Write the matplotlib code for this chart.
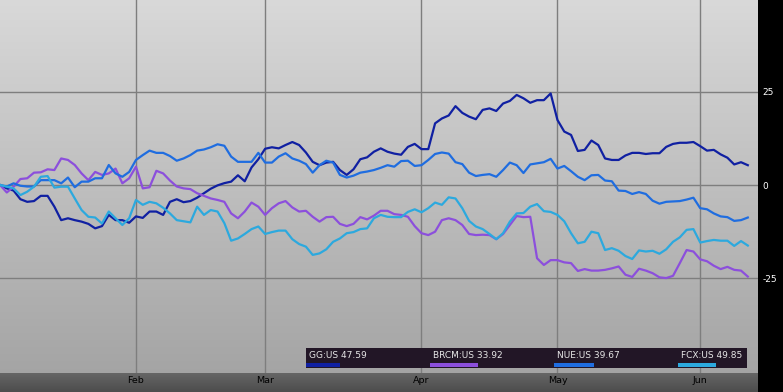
import numpy as np
import matplotlib
matplotlib.use("Agg")
import matplotlib.pyplot as plt
from matplotlib.patches import Rectangle

# % change since start, one value per trading day (Jan 3 2011 .. Jun 10 2011)
gg = [0, -0.9, -1.5, -3.8, -4.5, -4.3, -2.9, -2.9, -5.8, -9.4,
      -8.9, -9.4, -9.8, -10.4, -11.6, -11.0, -8.0, -9.4, -9.4, -10.1,
      -8.4, -8.8, -7.1, -7.1, -8.0, -4.5, -3.8, -4.6, -4.3, -3.4,
      -2.2, -1.0, -0.1, 0.5, 0.9, 2.6, 1.0, 4.7, 6.9, 9.7,
      10.1, 9.8, 10.7, 11.5, 10.7, 8.7, 6.2, 5.3, 6.0, 6.2,
      4.0, 2.7, 4.2, 6.9, 7.4, 8.9, 9.8, 8.9, 8.4, 8.1,
      10.2, 11.0, 9.6, 9.6, 16.5, 17.8, 18.6, 21.1, 19.3, 18.3,
      17.6, 20.1, 20.5, 19.8, 21.8, 22.5, 24.1, 23.2, 22.0, 22.7,
      22.7, 24.5, 17.4, 14.3, 13.4, 9.1, 9.4, 11.9, 10.7, 7.1,
      6.7, 6.7, 7.9, 8.6, 8.6, 8.3, 8.5, 8.5, 10.2, 11.0,
      11.3, 11.3, 11.5, 10.4, 9.2, 9.4, 8.2, 7.3, 5.5, 6.1, 5.3]

brcm = [0, -2.0, -0.45, 1.6, 1.8, 3.3, 3.4, 4.2, 4.0, 7.1,
        6.7, 5.35, 3.1, 1.3, 3.5, 2.7, 3.1, 4.4, 0.45, 1.8,
        4.9, -0.9, -0.6, 3.8, 3.1, 1.2, -0.4, -0.9, -1.1, -2.2,
        -2.9, -3.6, -4.0, -4.5, -7.6, -8.9, -7.1, -4.7, -5.8, -8.0,
        -6.2, -4.9, -4.3, -6.0, -7.1, -6.9, -8.5, -9.8, -8.6, -8.5,
        -10.4, -11.0, -10.4, -8.6, -9.2, -8.2, -6.9, -6.9, -7.8, -8.0,
        -8.5, -11.0, -12.9, -13.4, -12.5, -9.4, -8.9, -9.4, -10.7, -13.1,
        -13.4, -13.3, -13.4, -14.5, -13.1, -10.7, -8.3, -8.6, -8.5, -19.6,
        -21.4, -20.1, -20.1, -20.7, -20.9, -23.0, -22.5, -22.9, -22.9, -22.7,
        -22.3, -21.8, -24.0, -24.6, -22.4, -22.9, -23.6, -24.7, -24.9, -24.3,
        -20.9, -17.4, -17.8, -19.9, -20.4, -21.6, -22.5, -21.9, -22.7, -22.9, -24.5]

nue = [0, -0.4, 0.45, -0.2, -0.4, -0.4, 1.3, 1.3, 1.3, 0.45,
       2.0, -0.6, 0.9, 0.9, 1.8, 1.8, 5.35, 3.1, 2.2, 3.5,
       6.7, 8.0, 9.2, 8.6, 8.6, 7.75, 6.5, 7.1, 8.0, 9.2,
       9.5, 10.1, 10.9, 10.5, 7.6, 6.2, 6.2, 6.2, 8.6, 6.0,
       6.0, 7.6, 8.5, 7.1, 6.5, 5.6, 3.3, 5.3, 6.5, 6.0,
       2.7, 2.0, 2.5, 3.3, 3.6, 4.0, 4.6, 5.3, 4.9, 6.4,
       6.5, 5.1, 5.3, 6.7, 8.3, 8.7, 8.4, 6.1, 5.6, 3.3,
       2.4, 2.7, 2.9, 2.2, 4.0, 6.0, 5.3, 3.2, 5.5, 5.8,
       6.1, 7.0, 4.4, 5.1, 3.7, 2.2, 1.3, 2.6, 2.7, 1.2,
       1.0, -1.5, -1.6, -2.4, -1.9, -2.4, -4.2, -5.0, -4.5, -4.4,
       -4.3, -3.9, -3.4, -6.2, -6.5, -7.6, -8.4, -8.6, -9.6, -9.4, -8.7]

fcx = [0, -0.45, -0.9, -2.7, -1.8, -0.45, 2.2, 2.4, -0.7, -0.45,
       -0.45, -3.6, -6.7, -8.5, -8.7, -10.3, -7.1, -8.9, -10.7, -8.9,
       -4.0, -5.3, -4.5, -4.9, -6.1, -7.6, -9.4, -9.7, -10.0, -5.8,
       -8.0, -6.7, -7.1, -10.2, -14.9, -14.3, -13.1, -11.8, -11.1, -13.1,
       -12.6, -12.2, -12.2, -14.5, -15.8, -16.5, -18.7, -18.3, -17.2, -15.2,
       -14.3, -12.9, -12.6, -11.8, -11.6, -8.9, -8.0, -8.5, -8.6, -8.6,
       -7.2, -6.5, -7.3, -6.2, -4.7, -5.3, -3.3, -3.6, -6.2, -9.6,
       -11.1, -11.8, -13.1, -14.5, -12.9, -9.8, -7.6, -7.5, -5.8, -5.1,
       -7.0, -7.2, -8.0, -9.7, -12.9, -15.6, -15.2, -12.5, -12.9, -17.4,
       -16.9, -17.6, -19.0, -19.8, -17.5, -17.8, -17.6, -18.4, -17.2, -15.2,
       -14.0, -12.0, -11.8, -15.4, -15.0, -14.7, -14.9, -14.9, -16.3, -15.0, -16.2]

names = ["GG:US 47.59", "BRCM:US 33.92", "NUE:US 39.67", "FCX:US 49.85"]
colors = ["#1020a2", "#8c4fdc", "#1f6de0", "#2ca9de"]

month_labels = ["Feb", "Mar", "Apr", "May", "Jun"]
month_starts = [20, 39, 62, 82, 103]   # trading-day index of first day of month
y_ticks = [-25, 0, 25]

W, H = 783, 392
STRIP = 19  # height of month strip in px
fig = plt.figure(figsize=(W / 100, H / 100), dpi=100, facecolor="black")


def vgrad(top, bottom, n=256):
    g = np.linspace(bottom, top, n).reshape(-1, 1)
    return np.dstack([g, g, g])


# main plot area
ax = fig.add_axes([0, STRIP / H, 758 / W, (H - STRIP) / H])
ax.set_xlim(0, 111.5)
ax.set_ylim(-50.3, 49.5)
ax.imshow(vgrad(0.85, 0.645), extent=[0, 1, 0, 1], transform=ax.transAxes,
          aspect="auto", zorder=0, origin="lower")
for m in month_starts:
    ax.axvline(m, color="#7e7e7e", lw=1, zorder=1)
for t in y_ticks:
    ax.axhline(t, color="#7e7e7e", lw=1, zorder=1)

x = np.arange(len(gg))
for vals, c in zip([gg, brcm, nue, fcx], colors):
    ax.plot(x, vals, color=c, lw=1.6, zorder=3)

for s in ax.spines.values():
    s.set_visible(False)
ax.set_xticks([])
ax.yaxis.tick_right()
ax.set_yticks(y_ticks)
ax.set_yticklabels([str(t) for t in y_ticks])
ax.tick_params(axis="y", length=0, pad=3, labelcolor="white", labelsize=6.5)

# bottom month strip
ax2 = fig.add_axes([0, 0, 758 / W, STRIP / H])
ax2.set_xlim(0, 111.5)
ax2.set_ylim(0, 1)
ax2.imshow(vgrad(0.40, 0.30), extent=[0, 1, 0, 1], transform=ax2.transAxes,
           aspect="auto", zorder=0, origin="lower")
for m, lab in zip(month_starts, month_labels):
    ax2.text(m, 0.6, lab, ha="center", va="center", fontsize=6.8, color="#000000")
ax2.axis("off")


# legend box
def fx(px):
    return px / W


def fy(py):
    return 1 - py / H


fig.add_artist(Rectangle((fx(306), fy(367.5)), fx(747) - fx(306), fy(348) - fy(367.5),
                         transform=fig.transFigure, facecolor="#221626", edgecolor="none", zorder=4))
leg_x = [309, 433, 557, 681]
bar_w = [34, 48, 40, 38]
for lx, nm, c, bw in zip(leg_x, names, colors, bar_w):
    fig.text(fx(lx), fy(356), nm, fontsize=6.5, color="#e6e6e6", va="center", ha="left", zorder=5)
    fig.add_artist(Rectangle((fx(lx - 3), fy(366.5)), bw / W, 4 / H,
                             transform=fig.transFigure, facecolor=c, edgecolor="none", zorder=5))

fig.savefig("out.png", dpi=100, facecolor="black")
